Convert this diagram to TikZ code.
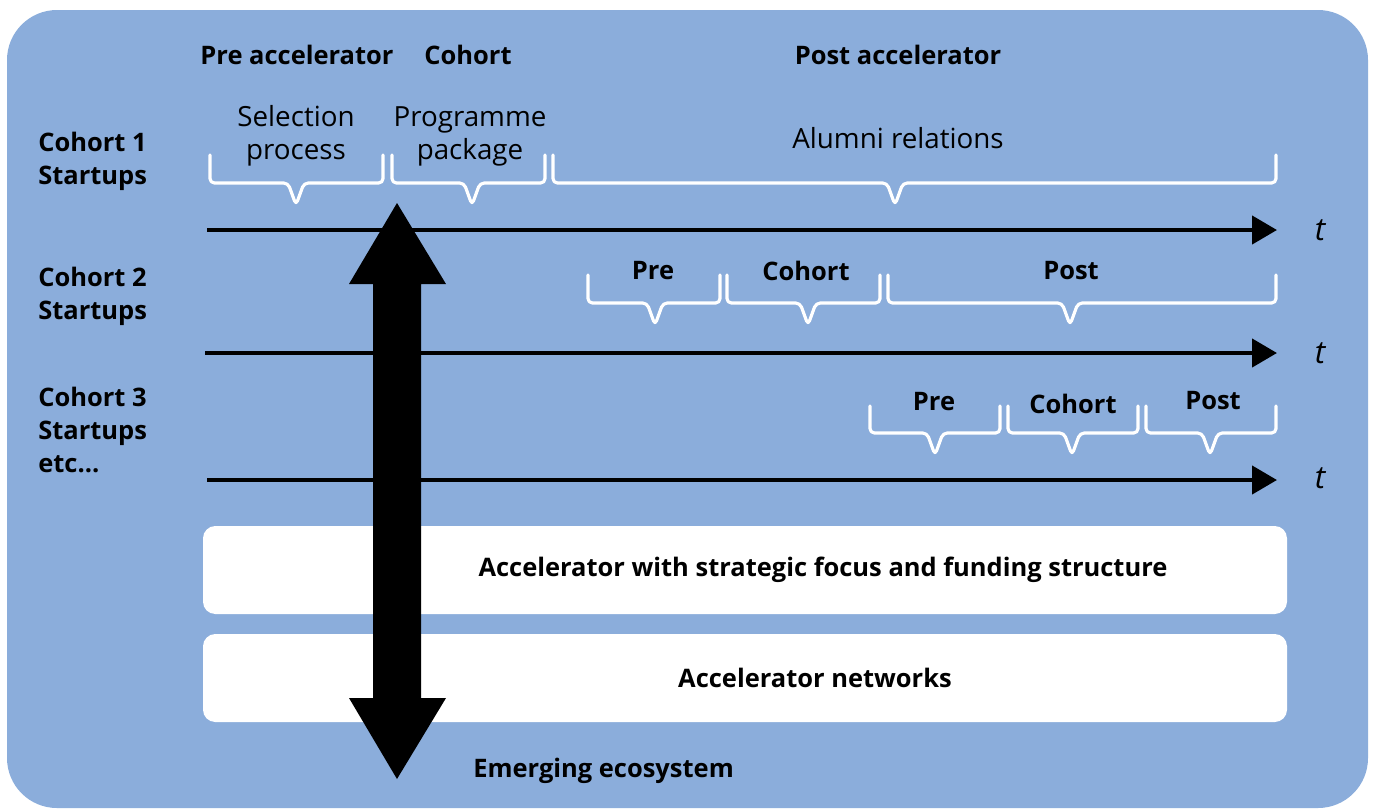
\documentclass[tikz,border=0pt]{standalone}
\usepackage{fontspec}
\setmainfont{Open Sans}
\usetikzlibrary{arrows.meta}
\definecolor{bgblue}{HTML}{8BADDB}
\tikzset{
  hdr/.style={font=\fontsize{14.5}{16}\selectfont\bfseries, inner sep=0pt, align=center},
  lbl/.style={font=\fontsize{15.8}{18.7}\selectfont, inner sep=0pt, align=center},
  rowlbl/.style={font=\fontsize{14.5}{18.7}\selectfont\bfseries, inner sep=0pt, align=left, anchor=north west},
  tlbl/.style={font=\fontsize{18}{20}\selectfont\itshape, inner sep=0pt},
  bracestyle/.style={draw=white, line width=1.8pt, rounded corners=2.5pt, line cap=round, line join=round},
  timeline/.style={line width=2.5pt, -{Triangle[length=14.2pt,width=15.9pt]}},
  whitebox/.style={fill=white, rounded corners=7pt},
}
\newcommand\brc[5]{% x1, x2, mid, top, line
  \draw[bracestyle] (#1,#4) -- (#1,#5) -- ({#3-8},#5) -- (#3,{#5+22}) -- ({#3+8},#5) -- (#2,#5) -- (#2,#4);}
\begin{document}
\begin{tikzpicture}[x=0.02cm, y=-0.02cm]
\useasboundingbox (0,0) rectangle (1373,809);
\fill[bgblue, rounded corners=1cm] (7,10) rectangle (1368,808);

% headers
\node[hdr] (hpre) at (297,55) {Pre accelerator};
\node[hdr] (hcoh) at (468,55) {Cohort};
\node[hdr] (hpost) at (898,55) {Post accelerator};

% row labels
\node[rowlbl] (r1) at (38,132) {Cohort 1\\Startups};
\node[rowlbl] (r2) at (38,267) {Cohort 2\\Startups};
\node[rowlbl] (r3) at (38,387) {Cohort 3\\Startups\\etc...};

% row 1 braces
\node[lbl] (sel) at (296,136) {Selection\\process};
\node[lbl] (prog) at (470,136) {Programme\\package};
\node[lbl] (alum) at (898,138) {Alumni relations};
\brc{210}{383}{296}{155}{183}
\brc{392}{545}{472}{155}{183}
\brc{553}{1276}{895}{155}{183}

% row 2 braces
\node[hdr] (pre2) at (653,271) {Pre};
\node[hdr] (coh2) at (806,271) {Cohort};
\node[hdr] (post2) at (1071,271) {Post};
\brc{588}{720}{655}{275}{303}
\brc{727}{880}{808}{275}{303}
\brc{888}{1276}{1070}{275}{303}

% row 3 braces
\node[hdr] (pre3) at (934,402) {Pre};
\node[hdr] (coh3) at (1073,404) {Cohort};
\node[hdr] (post3) at (1213,401) {Post};
\brc{870}{1000}{935}{406}{433}
\brc{1008}{1138}{1072}{406}{433}
\brc{1146}{1276}{1210}{406}{433}

% white boxes
\fill[whitebox] (203,526) rectangle (1287,614);
\node[hdr] (box1) at (823,570) {Accelerator with strategic focus and funding structure};
\fill[whitebox] (203,634) rectangle (1287,722);
\node[hdr] (box2) at (815,678) {Accelerator networks};

% time axes
\coordinate (a1s) at (207,230); \coordinate (a1e) at (1277,230);
\coordinate (a2s) at (205,353); \coordinate (a2e) at (1277,353);
\coordinate (a3s) at (207,480); \coordinate (a3e) at (1277,480);
\draw[timeline] (a1s) -- (a1e);
\draw[timeline] (a2s) -- (a2e);
\draw[timeline] (a3s) -- (a3e);
\node[tlbl] (t1) at (1320,230) {t};
\node[tlbl] (t2) at (1320,353) {t};
\node[tlbl] (t3) at (1320,478) {t};

% big double arrow
\fill[black] (397,203) -- (446,284) -- (421,284) -- (421,698) -- (446,698) -- (397,779)
  -- (349,698) -- (373,698) -- (373,284) -- (349,284) -- cycle;

\node[hdr, anchor=west] (eco) at (473,771) {Emerging ecosystem};
\end{tikzpicture}
\end{document}
